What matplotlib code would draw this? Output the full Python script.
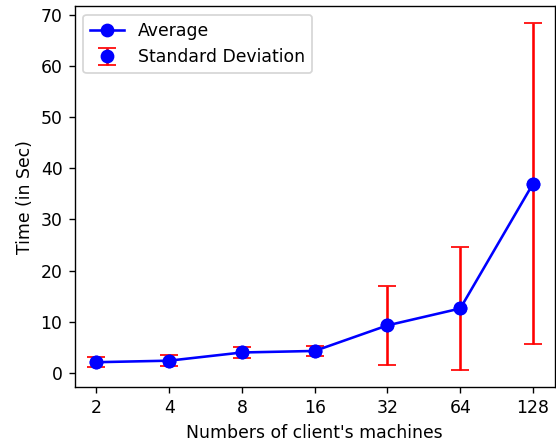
import matplotlib
matplotlib.use('Agg')
import matplotlib.pyplot as plt

# data
machines = ['2', '4', '8', '16', '32', '64', '128']
avg_time = [2.1, 2.4, 4.0, 4.3, 9.3, 12.6, 37.0]
std_time = [1.0, 1.05, 1.0, 0.95, 7.7, 12.0, 31.3]

x = list(range(len(machines)))

dpi = 124
fig, ax = plt.subplots(figsize=(556 / dpi, 441 / dpi), dpi=dpi)
fig.subplots_adjust(left=0.134, right=0.998, top=0.986, bottom=0.122)

err = ax.errorbar(x, avg_time, yerr=std_time, fmt='o', color='blue', ecolor='red',
                  capsize=5, markersize=7, label='Standard Deviation')
line, = ax.plot(x, avg_time, 'bo-', markersize=7, label='Average')

ax.set_xticks(x)
ax.set_xticklabels(machines)
ax.set_xlabel("Numbers of client's machines")
ax.set_ylabel('Time (in Sec)')

ax.legend([line, err], ['Average', 'Standard Deviation'], loc='upper left')

plt.savefig('out.png', dpi=dpi)
